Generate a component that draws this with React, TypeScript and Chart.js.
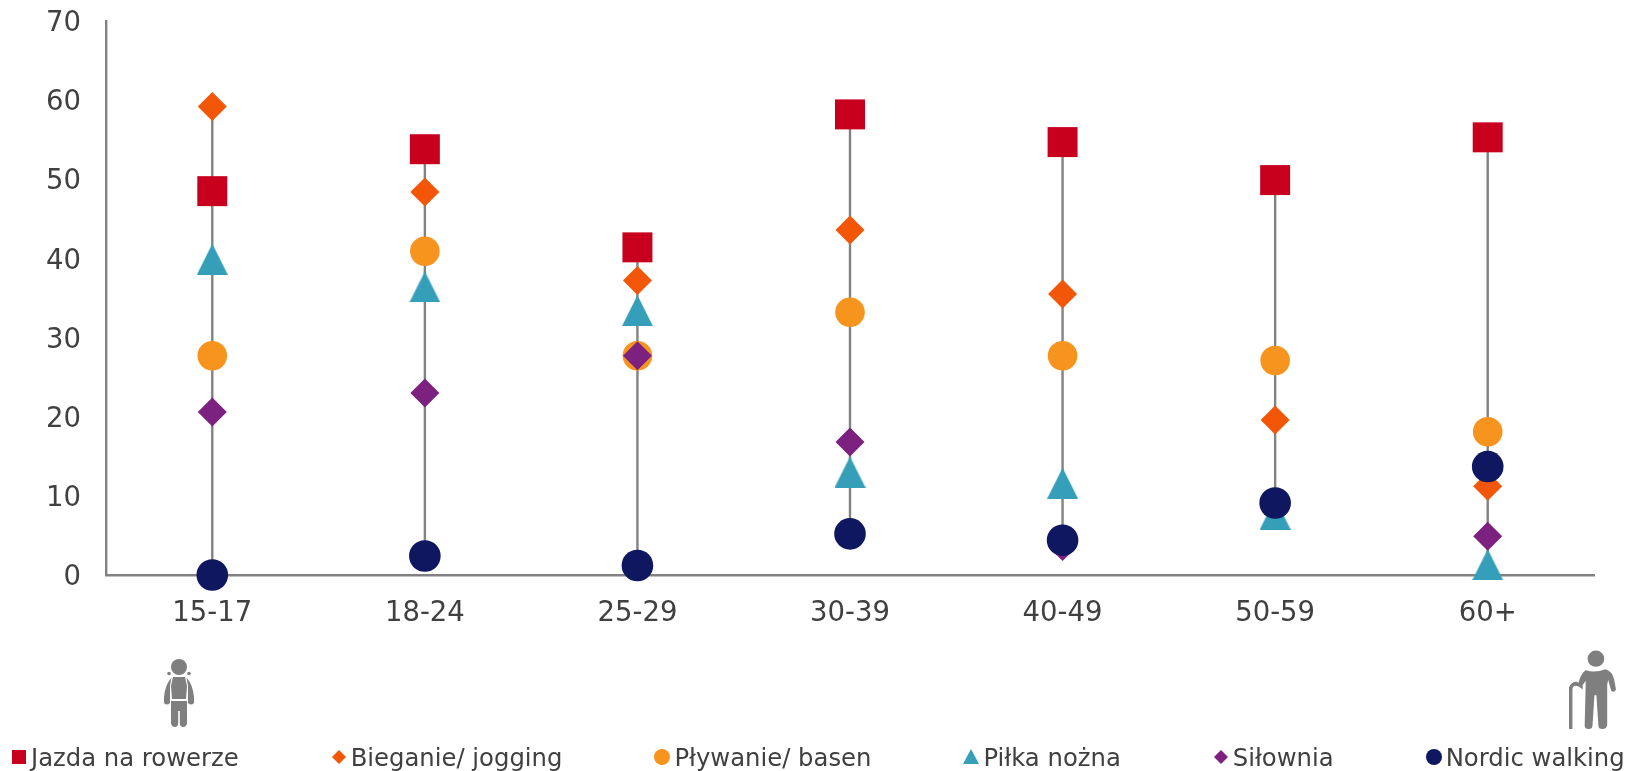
import React, { useEffect, useRef } from "react";
import { Chart, registerables } from "chart.js";

Chart.register(...registerables);

const categories = ["15-17", "18-24", "25-29", "30-39", "40-49", "50-59", "60+"];
const jazda = [48.5, 53.8, 41.4, 58.2, 54.7, 49.9, 55.3];
const bieganie = [59.2, 48.4, 37.2, 43.6, 35.5, 19.6, 11.2];
const plywanie = [27.7, 40.9, 27.7, 33.2, 27.7, 27.1, 18.1];
const pilka = [39.9, 36.4, 33.4, 13, 11.6, 7.7, 1.3];
const silownia = [20.6, 23, 27.7, 16.8, 3.6, 9, 4.9];
const nordic = [0, 2.4, 1.2, 5.2, 4.4, 9.1, 13.7];
const seriesNames = ["Jazda na rowerze", "Bieganie/ jogging", "Pływanie/ basen", "Piłka nożna", "Siłownia", "Nordic walking"];
const seriesData = [jazda, bieganie, plywanie, pilka, silownia, nordic];
const seriesColors = ["#C8001E", "#F25606", "#F7941E", "#359EB8", "#7D2180", "#0F1761"];
const seriesShapes = ["rect", "rectRot", "circle", "triangle", "rectRot", "circle"];
const seriesRadii = [21.2, 14.5, 14.8, 0, 14.5, 15.8];

const FONT = "'DejaVu Sans'";
const TEXT = "#404040";

function triangleMarker(color: string, size: number) {
  const c = document.createElement("canvas");
  c.width = size;
  c.height = size;
  const g = c.getContext("2d")!;
  g.fillStyle = color;
  g.beginPath();
  g.moveTo(size / 2, 0);
  g.lineTo(size, size);
  g.lineTo(0, size);
  g.closePath();
  g.fill();
  return c;
}

const hiLoLines = {
  id: "hiLoLines",
  beforeDatasetsDraw(chart: any) {
    const { ctx, scales } = chart;
    ctx.save();
    ctx.strokeStyle = "#828282";
    ctx.lineWidth = 2.4;
    categories.forEach((_, i) => {
      const vals = seriesData.map((s) => s[i]);
      const x = scales.x.getPixelForValue(i);
      ctx.beginPath();
      ctx.moveTo(x, scales.y.getPixelForValue(Math.max(...vals)));
      ctx.lineTo(x, scales.y.getPixelForValue(Math.min(...vals)));
      ctx.stroke();
    });
    ctx.restore();
  },
};

// The reference centres the y tick digits on the tick; canvas "middle" sits slightly higher.
const yLabelNudge = {
  id: "yLabelNudge",
  afterUpdate(chart: any) {
    chart.scales.y.getLabelItems().forEach((item: any) => {
      item.options.translation[1] += 3;
    });
  },
};

function LegendMarker({ index }: { index: number }) {
  const color = seriesColors[index];
  const shape = seriesShapes[index];
  let node: React.ReactNode;
  if (shape === "rect") node = <rect x="1" y="1" width="14" height="14" fill={color} />;
  else if (shape === "rectRot") node = <polygon points="8,1 15,8 8,15 1,8" fill={color} />;
  else if (shape === "circle") node = <circle cx="8" cy="8" r="8" fill={color} />;
  else node = <polygon points="8,0 16,15 0,15" fill={color} />;
  return (
    <svg width="16" height="16" viewBox="0 0 16 16" style={{ display: "block", flex: "none" }}>
      {node}
    </svg>
  );
}

function ChildIcon() {
  return (
    <svg width="30" height="68" viewBox="0 0 30 68" style={{ position: "absolute", left: 164, top: 659 }}>
      <g fill="#7F7F7F">
        <circle cx="15" cy="8" r="8" />
        <circle cx="5" cy="14.5" r="1.8" />
        <circle cx="25" cy="14.5" r="1.8" />
        <path d="M9 18 L21 18 L23 27 L22 40 L8 40 L7 27 Z" />
        <path d="M7.5 18.5 L6 27 L6 44 Q3 47 0 44 L0 38 Q1 26 7.5 18.5 Z" />
        <path d="M22.5 18.5 L24 27 L24 44 Q27 47 30 44 L30 38 Q29 26 22.5 18.5 Z" />
        <path d="M7 42 L23 42 L23 64 Q22.5 68 19 68 Q16 68 15.8 64 L15.8 52 L14.2 52 L14.2 64 Q14 68 11 68 Q7.5 68 7 64 Z" />
      </g>
    </svg>
  );
}

function SeniorIcon() {
  return (
    <svg width="47" height="79" viewBox="0 0 48 82" preserveAspectRatio="none" style={{ position: "absolute", left: 1569, top: 650 }}>
      <g fill="#7F7F7F">
        <circle cx="27.5" cy="9" r="8.5" />
        <path d="M17 21 Q27 24 37 20 Q44 22 46 30 L48 41 Q46 45 43 42 L40 31 L39 36 L39 78 Q38 82 34 82 Q30 82 30 78 L28 47 L26 47 L24 78 Q24 82 20 82 Q16 82 16 78 L17 37 L17 32 L13 38 L9 36 Q12 24 17 21 Z" />
        <path d="M0 39 Q2 33 8 33 L14 37 L14 41 Q10 37 7 37 Q3.5 37 3.5 41 L3.5 82 L0 82 Z" />
      </g>
    </svg>
  );
}

export default function App() {
  const ref = useRef<HTMLCanvasElement | null>(null);
  useEffect(() => {
    const chart = new Chart(ref.current!, {
      type: "line",
      data: {
        labels: categories,
        datasets: seriesNames.map((name, i) => ({
          label: name,
          data: seriesData[i],
          showLine: false,
          order: seriesNames.length - i,
          backgroundColor: seriesColors[i],
          borderColor: seriesColors[i],
          pointBackgroundColor: seriesColors[i],
          pointBorderWidth: 0,
          pointRadius: seriesRadii[i] || 16,
          pointStyle: seriesShapes[i] === "triangle" ? triangleMarker(seriesColors[i], 31) : seriesShapes[i],
          clip: false,
        })) as any,
      },
      plugins: [hiLoLines, yLabelNudge],
      options: {
        animation: false,
        responsive: false,
        layout: { padding: { top: 21, right: 38, left: 0, bottom: 0 }, autoPadding: false } as any,
        plugins: { legend: { display: false }, tooltip: { enabled: false } },
        scales: {
          x: {
            offset: true,
            grid: { display: false, drawTicks: false },
            border: { color: "#828282", width: 2.4 },
            ticks: { color: TEXT, font: { family: FONT, size: 27.5 }, padding: 22, maxRotation: 0 },
            afterFit: (s: any) => { s.height = 196; s.paddingLeft = 0; s.paddingRight = 0; },
          },
          y: {
            min: 0,
            max: 70,
            grid: { display: false, drawTicks: false },
            border: { color: "#828282", width: 2.4 },
            ticks: { stepSize: 10, color: TEXT, font: { family: FONT, size: 27.5 }, padding: 25 },
            afterFit: (s: any) => { s.width = 106; s.paddingTop = 0; s.paddingBottom = 0; },
          },
        },
      },
    });
    return () => chart.destroy();
  }, []);
  return (
    <div style={{ position: "absolute", left: 0, top: 0, width: 1632, height: 771, overflow: "hidden", background: "#fff" }}>
      <canvas ref={ref} width={1632} height={771} style={{ display: "block" }} />
      <ChildIcon />
      <SeniorIcon />
      <div style={{ position: "absolute", left: 11, top: 740, height: 34, display: "flex", alignItems: "center", gap: 92, whiteSpace: "nowrap", fontFamily: FONT, fontSize: 24.3, color: TEXT }}>
        {seriesNames.map((name, i) => (
          <div key={name} style={{ display: "flex", alignItems: "center", gap: 4 }}>
            <LegendMarker index={i} />
            <span>{name}</span>
          </div>
        ))}
      </div>
    </div>
  );
}
